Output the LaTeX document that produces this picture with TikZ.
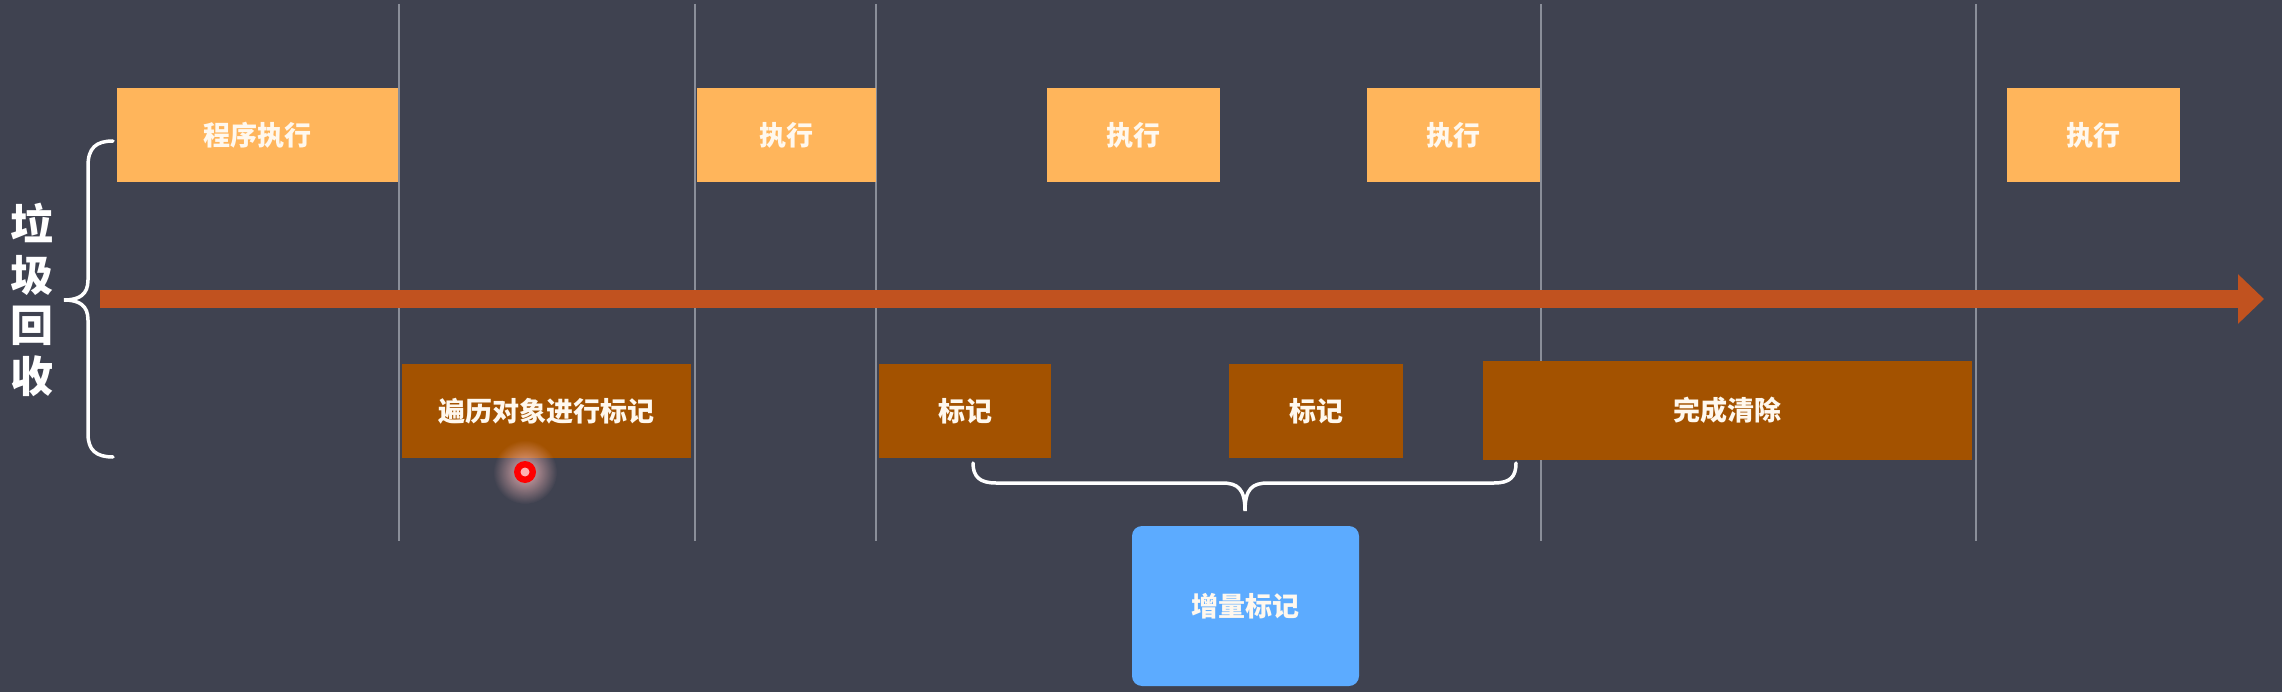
\documentclass[tikz,border=0pt]{standalone}
\usepackage{fontspec}
\setmainfont{Noto Sans CJK SC}
\usetikzlibrary{arrows.meta,fadings}
\definecolor{bgc}{RGB}{63,66,80}
\definecolor{topc}{RGB}{255,181,91}
\definecolor{lowc}{RGB}{163,82,0}
\definecolor{arrc}{RGB}{193,82,31}
\definecolor{bluec}{RGB}{92,171,255}
\definecolor{gridc}{RGB}{138,142,153}
\definecolor{txtc}{RGB}{255,248,238}
\definecolor{glowc}{RGB}{255,190,190}
\tikzfading[name=glowfade, inner color=transparent!0, outer color=transparent!100]
\tikzset{
  box/.style={inner sep=0pt, outer sep=0pt, minimum height=94pt, text=txtc, font=\bfseries\fontsize{27}{30}\selectfont},
  topbox/.style={box, fill=topc},
  lowbox/.style={box, fill=lowc},
  incbox/.style={box, fill=bluec, rounded corners=10pt},
  gridline/.style={draw=gridc, line width=2pt},
  bracestyle/.style={draw=white, line width=3.5pt, line cap=round},
  timeline/.style={draw=arrc, line width=18pt, -{Triangle[length=26pt,width=48pt]}}
}
\begin{document}
\begin{tikzpicture}[x=1pt,y=-1pt]
\useasboundingbox (0,0) rectangle (2282,692);
\fill[bgc] (0,0) rectangle (2282,692);
% grid lines
\foreach \gx/\nm in {399/g1,695/g2,876/g3,1541/g4,1976/g5}{
  \coordinate (\nm t) at (\gx,4);
  \coordinate (\nm b) at (\gx,541);
  \draw[gridline] (\nm t) -- (\nm b);
}
% timeline arrow
\coordinate (a0) at (100,299);
\coordinate (a1) at (2264,299);
\draw[timeline] (a0) -- (a1);
% top boxes
\node[topbox, minimum width=281pt] (p1) at (257.5,135) {程序执行};
\node[topbox, minimum width=179pt] (e1) at (786.5,135) {执行};
\node[topbox, minimum width=173pt] (e2) at (1133.5,135) {执行};
\node[topbox, minimum width=173pt] (e3) at (1453.5,135) {执行};
\node[topbox, minimum width=173pt] (e4) at (2093.5,135) {执行};
% lower boxes
\node[lowbox, minimum width=289pt] (m0) at (546.5,411) {遍历对象进行标记};
\node[lowbox, minimum width=172pt] (m1) at (965,411) {标记};
\node[lowbox, minimum width=174pt] (m2) at (1316,411) {标记};
\node[lowbox, minimum width=489pt, minimum height=99pt] (cl) at (1727.5,410.5) {完成清除};
% incremental box
\node[incbox, minimum width=227pt, minimum height=160pt] (inc) at (1245.5,606) {增量标记};
% left label
\node[text=white, font=\bfseries\fontsize{43}{50.5}\selectfont, align=center, inner sep=0pt] (gc) at (32,300) {垃\\圾\\回\\收};
% left brace
\coordinate (lb1) at (113,141);
\coordinate (lb2) at (113,457);
\coordinate (lbt) at (64,300);
\draw[bracestyle] (lb1) .. controls (96,141) and (88,148) .. (88,166) -- (88,280)
  .. controls (88,294) and (80,300) .. (lbt)
  .. controls (80,300) and (88,306) .. (88,320) -- (88,434)
  .. controls (88,450) and (96,457) .. (lb2);
% bottom brace
\coordinate (bb1) at (973,463);
\coordinate (bb2) at (1516,463);
\coordinate (bbt) at (1245,511);
\draw[bracestyle] (bb1) .. controls (973,477) and (980,483) .. (996,483) -- (1222,483)
  .. controls (1238,483) and (1245,489) .. (bbt)
  .. controls (1245,489) and (1252,483) .. (1268,483) -- (1494,483)
  .. controls (1510,483) and (1516,477) .. (bb2);
% pointer dot
\coordinate (dot) at (525,472);
\fill[glowc, opacity=0.85, path fading=glowfade] (dot) circle (32pt);
\fill[red] (dot) circle (11pt);
\fill[red!30!white] (dot) circle (4.5pt);
\end{tikzpicture}
\end{document}
